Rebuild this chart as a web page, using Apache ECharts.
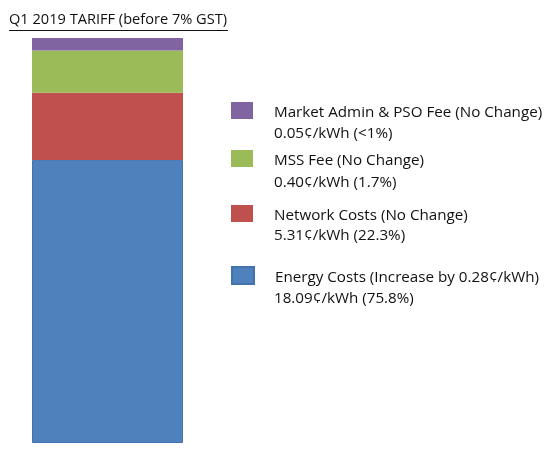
<!DOCTYPE html>
<html><head><meta charset="utf-8">
<script src="https://cdn.jsdelivr.net/npm/echarts@6/dist/echarts.min.js"></script>
<style>html,body{margin:0;padding:0;background:#fff}#c{width:558px;height:452px}</style>
</head><body><div id="c"></div>
<script>
// Components (top of bar to bottom)
const names = ['Market Admin & PSO Fee (No Change)', 'MSS Fee (No Change)', 'Network Costs (No Change)', 'Energy Costs (Increase by 0.28¢/kWh)'];
const subLabels = ['0.05¢/kWh (<1%)', '0.40¢/kWh (1.7%)', '5.31¢/kWh (22.3%)', '18.09¢/kWh (75.8%)'];
// Segment heights as drawn in the picture (share of bar height, %)
const barShare = [3.1, 10.4, 16.6, 69.9];
const colors = ['#8064a2', '#9bbb59', '#c0504d', '#4f81bd'];
const category = ['Q1 2019'];
const titleText = 'Q1 2019 TARIFF (before 7% GST)';

const FONT = 'Open Sans';
const TXT = '#111111';
const legendTops = [102, 150, 205, 266];
const subTops = [126, 175, 228, 291];

const chart = echarts.init(document.getElementById('c'));
const series = [];
// stack from bottom: Energy first
for (let i = names.length - 1; i >= 0; i--) {
  series.push({
    name: names[i], type: 'bar', stack: 'total', barWidth: '100%',
    data: [barShare[i]],
    itemStyle: { color: colors[i], borderColor: i === 3 ? '#4273b0' : colors[i], borderWidth: i === 3 ? 1 : 0 },
    emphasis: { disabled: true }
  });
}
const legends = names.map((n, i) => ({
  data: [n], left: 231, top: legendTops[i], orient: 'vertical', padding: 0,
  itemWidth: 22, itemHeight: 17, icon: 'rect', selectedMode: false,
  formatter: '{a|{name}}',
  textStyle: {
    fontFamily: FONT, fontSize: 15.2, color: TXT, padding: [0, 0, 0, 16],
    rich: { a: { fontFamily: FONT, fontSize: 15.2, color: TXT, padding: [5, 0, 0, 0] } }
  }
}));
const graphics = subLabels.map((s, i) => ({
  type: 'text', left: 274, top: subTops[i],
  style: { text: s, fontFamily: FONT, fontSize: 15.2, fill: TXT }
}));
graphics.push({ type: 'line', shape: { x1: 9, y1: 30.5, x2: 228, y2: 30.5 }, style: { stroke: TXT, lineWidth: 1.2 } });
chart.setOption({
  animation: false,
  title: { text: titleText, left: 9, top: 12, padding: 0, textStyle: { fontFamily: FONT, fontSize: 14.6, fontWeight: 'normal', color: TXT } },
  legend: legends,
  grid: { left: 32, width: 151, top: 38, bottom: 9 },
  xAxis: { type: 'category', data: category, show: false },
  yAxis: { type: 'value', min: 0, max: 100, show: false },
  series: series,
  graphic: graphics
});
</script></body></html>
